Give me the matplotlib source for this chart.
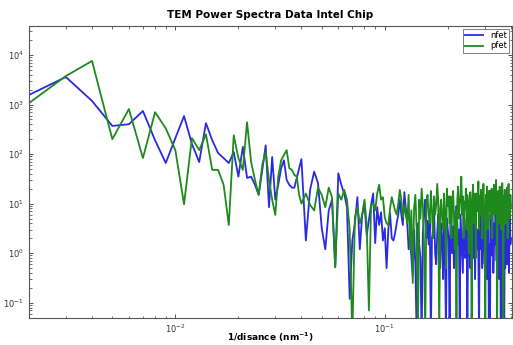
import numpy as np
import matplotlib
matplotlib.use("Agg")
import matplotlib.pyplot as plt

# frequency grid index k (frequency = k / 1000 nm^-1)
k_low = list(range(2, 41))
k_mid = list(range(42, 101, 2))
k_high = list(range(102, 401, 2))
freq = np.array(k_low + k_mid + k_high) / 1000.0

nfet = [
    # k = 2..40
    1560, 3590, 1180, 370, 400, 740, 190, 66, 210, 585,
    160, 69, 420, 190, 105, 83, 66, 110, 35, 140,
    33, 35, 24, 15, 47, 150, 8.5, 87, 12, 24,
    52, 75, 30, 24, 21, 21, 33, 52, 79,
    # k = 42..100 step 2
    1.8, 19, 44, 26, 3.2, 1.2, 7.3, 12, 0.52, 41,
    24, 16, 8.5, 0.12, 1.8, 4.0, 13.5, 1.2, 5.9, 10,
    2.3, 4.7, 9.4, 16, 1.6, 8.5, 3.7, 6.7, 1.8, 3.2,
    # k = 102..136 step 2
    0.5, 3, 6.4, 2, 1.8, 2.5, 4, 5.9, 12, 6,
    3.7, 17, 8, 4, 1.2, 2.3, 0.8, 0.35,
    # k = 138..400 step 2
    3, 0.6, 0.02, 4, 1.5, 0.8, 0.02, 2.5, 6, 12,
    2, 4.5, 1.5, 5, 0.02, 2, 3, 8, 1, 0.6,
    2.5, 6, 1.2, 0.5, 4, 2, 0.3, 5, 1, 0.02,
    5, 3, 2, 0.02, 7, 1.5, 1, 3.5, 0.5, 6,
    2, 9, 4, 1.5, 3, 0.02, 6, 2.5, 1, 0.4,
    8, 3, 0.8, 1, 5, 0.02, 2.5, 5, 1.2, 0.5,
    2, 9, 3, 0.8, 4, 1.5, 0.3, 6, 2, 1.2,
    3, 0.7, 0.02, 5, 7, 1.2, 4, 0.5, 2, 10,
    2.5, 0.6, 4, 5, 1.8, 0.3, 3, 6, 0.02, 1.5,
    0.02, 6, 2, 0.9, 8, 3.5, 0.4, 1, 4, 1.5,
    7, 2.5, 0.7, 5, 1.2, 9, 3, 0.3, 0.9, 4.5,
    0.02, 6, 2, 3, 0.8, 5, 1.5, 0.02, 3.5, 0.5,
    4, 2, 7, 0.6, 1.2, 5, 2.5, 0.4, 3, 6,
    1.5, 2,
]

pfet = [
    # k = 2..40
    1070, 3760, 7560, 200, 810, 83, 700, 330, 120, 9.7,
    210, 120, 250, 48, 48, 24, 3.7, 240, 83, 48,
    440, 69, 30, 15, 60, 110, 30, 12, 5.9, 35,
    75, 96, 120, 52, 48, 38, 35, 15, 10,
    # k = 42..100 step 2
    16, 9.4, 7.3, 21, 15, 8.5, 21, 13.5, 0.52, 16,
    12, 19, 12, 3.0, 0.02, 5.3, 8.5, 4.0, 5.9, 12,
    3.7, 0.07, 9.4, 10, 7.3, 16, 24, 12, 13.5, 5.3,
    # k = 102..136 step 2
    4, 3.7, 8, 13.5, 10, 7.3, 6, 10, 19, 12,
    5.3, 9.4, 6, 4, 15, 1.2, 7.3, 0.25,
    # k = 138..400 step 2
    8, 15, 3, 0.02, 12, 5, 20, 9, 1.5, 0.02,
    10, 15, 6, 4, 18, 7, 2, 14, 6, 9,
    25, 11, 0.02, 8, 12, 5, 3, 16, 6, 0.5,
    20, 9, 14, 4, 14, 2, 10, 18, 6, 1.2,
    7, 0.02, 12, 22, 5, 9, 15, 35, 6, 14,
    2, 11, 8, 20, 3, 15, 9, 1, 10, 17,
    6, 0.02, 13, 24, 4, 9, 16, 0.8, 16, 7,
    11, 28, 3, 14, 6, 19, 10, 2, 12, 25,
    8, 4, 0.02, 15, 9, 22, 3, 13, 18, 7,
    18, 5, 12, 20, 2, 14, 8, 24, 6, 16,
    10, 30, 5, 0.02, 12, 18, 4, 9, 22, 7,
    15, 3, 11, 26, 8, 0.02, 14, 6, 19, 10,
    4, 16, 9, 21, 2, 13, 25, 7, 11, 5,
    15, 8,
]

series_labels = ["nfet", "pfet"]
title = "TEM Power Spectra Data Intel Chip"
xlabel = "1/disance (nm$^{\\mathbf{-1}}$)"

fig = plt.figure(figsize=(5.13, 3.45), dpi=100)
ax = fig.add_axes([0.0565, 0.078, 0.9415, 0.846])
ax.plot(freq, nfet, color="#2a2ae0", lw=1.3, label=series_labels[0])
ax.plot(freq, pfet, color="#1e8a1e", lw=1.3, label=series_labels[1])
ax.set_xscale("log")
ax.set_yscale("log")
ax.set_xlim(0.002, 0.405)
ax.set_ylim(0.049, 3.8e4)

ax.tick_params(which="both", direction="in", top=True, right=True,
               labelsize=6, colors="#333333")
ax.tick_params(which="major", length=3, width=0.6)
ax.tick_params(which="minor", length=1.8, width=0.5)
for s in ax.spines.values():
    s.set_color("#555555")
    s.set_linewidth(0.8)

ax.set_title(title, fontsize=7.5, fontweight="bold", pad=6)
fig.text(0.527, 0.022, xlabel, fontsize=6.5, fontweight="bold",
         ha="center", va="center")

leg = ax.legend(loc="upper right", fontsize=6, frameon=True, fancybox=False,
                handlelength=2.2, borderpad=0.3, labelspacing=0.15,
                borderaxespad=0.3)
leg.get_frame().set_edgecolor("#444444")
leg.get_frame().set_linewidth(0.6)

fig.savefig("out.png", dpi=100)
